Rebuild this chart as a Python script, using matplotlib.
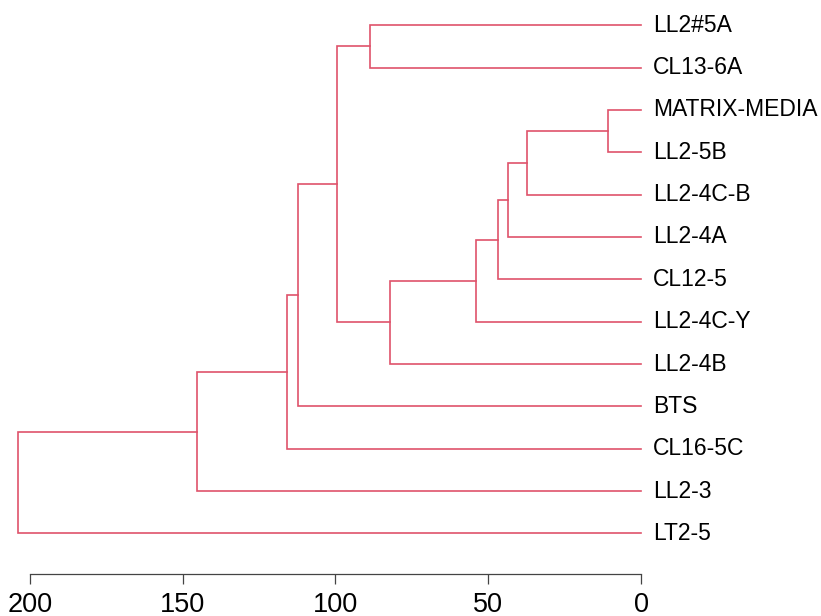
import numpy as np
import matplotlib
matplotlib.use('Agg')
import matplotlib.pyplot as plt

plt.rcParams['font.family'] = ['Liberation Sans', 'DejaVu Sans']

# leaves, top to bottom
labels = ['LL2#5A', 'CL13-6A', 'MATRIX-MEDIA', 'LL2-5B', 'LL2-4C-B', 'LL2-4A',
          'CL12-5', 'LL2-4C-Y', 'LL2-4B', 'BTS', 'CL16-5C', 'LL2-3', 'LT2-5']

# merges: (left id, right id, height); new clusters get ids 13, 14, ...
merge_a = [2, 13, 14, 15, 16, 17, 0, 19, 20, 21, 22, 23]
merge_b = [3, 4, 5, 6, 7, 8, 1, 18, 9, 10, 11, 12]
merge_h = [10.7, 37.3, 43.6, 46.7, 54.0, 82.2, 88.7, 99.5, 112.4, 115.8, 145.3, 204.0]

col = '#DF536B'

fig = plt.figure(figsize=(8.21, 6.16), dpi=100)
ax = fig.add_axes([0, 0, 1, 1])

n = len(labels)
pos = {i: float(i) for i in range(n)}
hgt = {i: 0.0 for i in range(n)}

for k in range(len(merge_h)):
    a, b, h = merge_a[k], merge_b[k], merge_h[k]
    ax.plot([hgt[a], h, h, hgt[b]], [pos[a], pos[a], pos[b], pos[b]],
            color=col, lw=1.2, solid_joinstyle='miter')
    new = n + k
    pos[new] = (pos[a] + pos[b]) / 2
    hgt[new] = h

for i, lab in enumerate(labels):
    ax.text(-3.8, i, lab, va='center', ha='left', fontsize=16.5)

ax.set_xlim(209.8, -58.9)
ax.set_ylim(13.95, -0.595)

for s in ['top', 'right', 'left']:
    ax.spines[s].set_visible(False)
ax.spines['bottom'].set_position(('data', 12.96))
ax.spines['bottom'].set_bounds(0, 200)
ax.spines['bottom'].set_color('#444444')
ax.spines['bottom'].set_linewidth(0.9)
ax.set_xticks([200, 150, 100, 50, 0])
ax.tick_params(axis='x', direction='out', length=7, width=0.9, color='#444444',
               labelsize=19.5, pad=6)
ax.set_yticks([])

fig.savefig('out.png', dpi=100)
